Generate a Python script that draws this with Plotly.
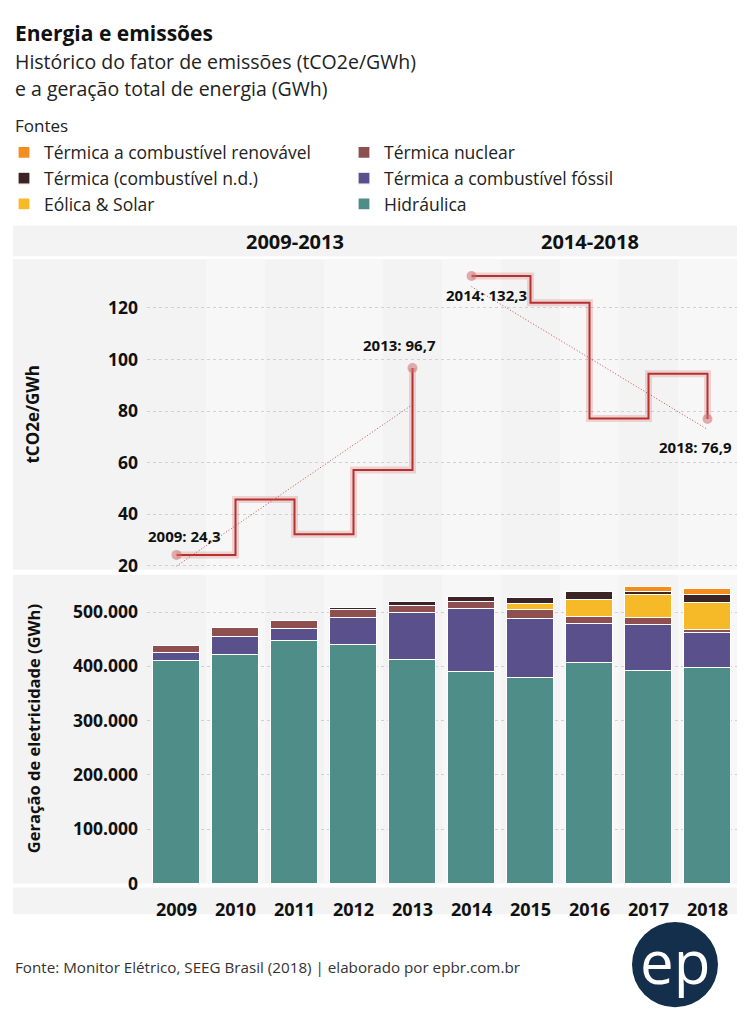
import numpy as np
import plotly.graph_objects as go

W, H = 750, 1032
FONT = "Open Sans"

# ---------------- data ----------------
years = [2009, 2010, 2011, 2012, 2013, 2014, 2015, 2016, 2017, 2018]
emission_factor = [24.3, 45.7, 32.3, 57.2, 96.7, 132.3, 121.9, 77.1, 94.4, 76.9]
periods = ["2009-2013", "2014-2018"]

hidraulica = [410800, 421700, 447300, 439300, 411900, 390000, 379000, 406400, 391700, 396700]
termica_fossil = [13900, 33500, 22500, 49400, 85900, 115900, 107900, 71300, 84100, 65800]
termica_nuclear = [13500, 15200, 14000, 14600, 12800, 13400, 16400, 14000, 14000, 5500]
eolica_solar = [0, 0, 0, 0, 0, 0, 12800, 31700, 41500, 48300]
termica_nd = [0, 0, 0, 4900, 8000, 9700, 11000, 13400, 5500, 14600]
termica_renovavel = [0, 0, 0, 0, 0, 0, 0, 0, 9100, 11000]

y_ticks_top = [20, 40, 60, 80, 100, 120]
y_ticks_bottom = [0, 100000, 200000, 300000, 400000, 500000]

# ---------------- helpers ----------------
def px(x):
    return x / W


def py(y):
    return 1 - y / H


X_L, X_R = 147, 737
TOP_T, TOP_B = 262, 576
BOT_T, BOT_B = 581, 893

fig = go.Figure()

# stacked bars (bottom-up order)
series = [
    ("Hidráulica", hidraulica, "#4f8d88", 6),
    ("Térmica a combustível fóssil", termica_fossil, "#5a508c", 4),
    ("Térmica nuclear", termica_nuclear, "#8e4f50", 2),
    ("Eólica & Solar", eolica_solar, "#f6b927", 5),
    ("Térmica (combustível n.d.)", termica_nd, "#3c2424", 3),
    ("Térmica a combustível renovável", termica_renovavel, "#f58c1e", 1),
]
for name, vals, col, rank in series:
    fig.add_trace(go.Bar(
        x=years, y=vals, name=name, legendrank=rank,
        marker=dict(color=col, line=dict(color="white", width=1.2)),
        width=0.81, xaxis="x", yaxis="y",
        hovertemplate="%{x}: %{y:,.0f}<extra>" + name + "</extra>",
    ))

# emission factor step lines, per period
groups = [(0, 5), (5, 10)]
for (a, b) in groups:
    xs = years[a:b]
    ys = emission_factor[a:b]
    fig.add_trace(go.Scatter(x=xs, y=ys, mode="lines", line_shape="hv",
                             line=dict(color="rgba(214,120,120,0.28)", width=7),
                             xaxis="x2", yaxis="y2", showlegend=False, hoverinfo="skip"))
    fig.add_trace(go.Scatter(x=xs, y=ys, mode="lines", line_shape="hv",
                             line=dict(color="#b5302f", width=2),
                             xaxis="x2", yaxis="y2", showlegend=False))
    fig.add_trace(go.Scatter(x=[xs[0], xs[-1]], y=[ys[0], ys[-1]], mode="markers",
                             marker=dict(color="rgba(205,110,110,0.55)", size=10),
                             xaxis="x2", yaxis="y2", showlegend=False, hoverinfo="skip"))
    # linear trend
    k, c = np.polyfit(xs, ys, 1)
    fig.add_trace(go.Scatter(x=[xs[0], xs[-1]], y=[k * xs[0] + c, k * xs[-1] + c], mode="lines",
                             line=dict(color="#c0504d", width=1, dash="1px,2px"),
                             xaxis="x2", yaxis="y2", showlegend=False, hoverinfo="skip"))

# ---------------- background shapes ----------------
shapes = []
band = "#f3f3f3"
for (y0, y1) in [(228, 259), (TOP_T, TOP_B), (BOT_T, BOT_B), (897, 924)]:
    shapes.append(dict(type="rect", xref="paper", yref="paper", x0=px(13), x1=px(X_R),
                       y0=py(y1), y1=py(y0), fillcolor=band, line=dict(width=0), layer="below"))
for i, yr in enumerate(years):
    if i % 2 == 1:
        for (y0, y1) in [(TOP_T, TOP_B), (BOT_T, BOT_B)]:
            shapes.append(dict(type="rect", xref="x", yref="paper", x0=yr - 0.5, x1=yr + 0.5,
                               y0=py(y1), y1=py(y0), fillcolor="#f7f7f7",
                               line=dict(width=0), layer="below"))
# logo circle
shapes.append(dict(type="circle", xref="paper", yref="paper", x0=px(632), x1=px(718),
                   y0=py(1018), y1=py(932), fillcolor="#142f4c", line=dict(width=0)))

# ---------------- annotations ----------------
ann = []
ann.append(dict(text="<b>Energia e emissões</b>", x=px(13), y=py(33), xref="paper", yref="paper",
                xanchor="left", yanchor="middle", showarrow=False, font=dict(size=21, color="#111")))
ann.append(dict(text="Histórico do fator de emissões (tCO2e/GWh)", x=px(13), y=py(62), xref="paper",
                yref="paper", xanchor="left", yanchor="middle", showarrow=False,
                font=dict(size=19.5, color="#222")))
ann.append(dict(text="e a geração total de energia (GWh)", x=px(13), y=py(89), xref="paper",
                yref="paper", xanchor="left", yanchor="middle", showarrow=False,
                font=dict(size=19.5, color="#222")))
ann.append(dict(text="Fontes", x=px(13), y=py(127), xref="paper", yref="paper",
                xanchor="left", yanchor="middle", showarrow=False, font=dict(size=17, color="#222")))
for i, p in enumerate(periods):
    xc = (years[i * 5] + years[i * 5 + 4]) / 2
    ann.append(dict(text=f"<b>{p}</b>", x=xc, y=py(244), xref="x", yref="paper",
                    xanchor="center", yanchor="middle", showarrow=False,
                    font=dict(size=20, color="#111")))
# end-point labels
label_offsets = {0: (8, 19), 4: (-13, 23), 5: (15, -19), 9: (-12, -28)}
for idx, (dx, dy) in label_offsets.items():
    v = emission_factor[idx]
    ann.append(dict(text=f"<b>{years[idx]}: {str(v).replace('.', ',')}</b>", x=years[idx], y=v,
                    xref="x2", yref="y2", xanchor="center", yanchor="middle", showarrow=False,
                    xshift=dx, yshift=dy, font=dict(size=15, color="#111")))
# axis titles
ann.append(dict(text="<b>tCO2e/GWh</b>", x=px(33), y=py((TOP_T + TOP_B) / 2), xref="paper",
                yref="paper", xanchor="center", yanchor="middle", textangle=-90, showarrow=False,
                font=dict(size=17, color="#111")))
ann.append(dict(text="<b>Geração de eletricidade (GWh)</b>", x=px(33), y=py((BOT_T + BOT_B) / 2),
                xref="paper", yref="paper", xanchor="center", yanchor="middle", textangle=-90,
                showarrow=False, font=dict(size=16.5, color="#111")))
# footer
ann.append(dict(text="Fonte: Monitor Elétrico, SEEG Brasil (2018) | elaborado por epbr.com.br",
                x=px(13), y=py(977), xref="paper", yref="paper", xanchor="left", yanchor="middle",
                showarrow=False, font=dict(size=15.2, color="#333")))
ann.append(dict(text="ep", x=px(675), y=py(971), xref="paper", yref="paper", xanchor="center",
                yanchor="middle", showarrow=False, font=dict(size=60, color="white", family="Open Sans")))

grid = "#cfcfdc"
tick_font = dict(size=17.5, color="#111", weight="bold")
fig.update_layout(
    width=W, height=H,
    margin=dict(l=0, r=0, t=0, b=0),
    paper_bgcolor="white", plot_bgcolor="rgba(0,0,0,0)",
    font=dict(family=FONT, color="#111"),
    separators=",.",
    barmode="stack",
    bargap=0,
    shapes=shapes,
    annotations=ann,
    showlegend=True,
    legend=dict(orientation="h", x=px(4), xanchor="left", y=py(136), yanchor="top",
                entrywidth=295, entrywidthmode="pixels", traceorder="normal",
                font=dict(size=17.5, color="#222"), bgcolor="rgba(0,0,0,0)"),
    xaxis=dict(domain=[px(X_L), px(X_R)], range=[2008.5, 2018.5], tickvals=years,
               tickfont=dict(size=18, color="#111", weight="bold"),
               showgrid=False, zeroline=False, showline=False, ticks="", anchor="y",
               ticklabelstandoff=14),
    yaxis=dict(domain=[py(BOT_B), py(BOT_T)], range=[0, 568600], tickvals=y_ticks_bottom,
               tickformat=",d", tickfont=tick_font, showgrid=True,
               gridcolor=grid, griddash="dot", gridwidth=1, zeroline=False, ticks="",
               ticklabelstandoff=8, anchor="x"),
    xaxis2=dict(domain=[px(X_L), px(X_R)], range=[2008.5, 2018.5], matches="x",
                showticklabels=False, showgrid=False, zeroline=False, anchor="y2"),
    yaxis2=dict(domain=[py(TOP_B), py(TOP_T)], range=[18.5, 138.8], tickvals=y_ticks_top,
                tickfont=tick_font, showgrid=True, gridcolor=grid,
                griddash="dot", gridwidth=1, zeroline=False, ticks="", ticklabelstandoff=8,
                anchor="x2"),
)

fig.write_html("out.html")
